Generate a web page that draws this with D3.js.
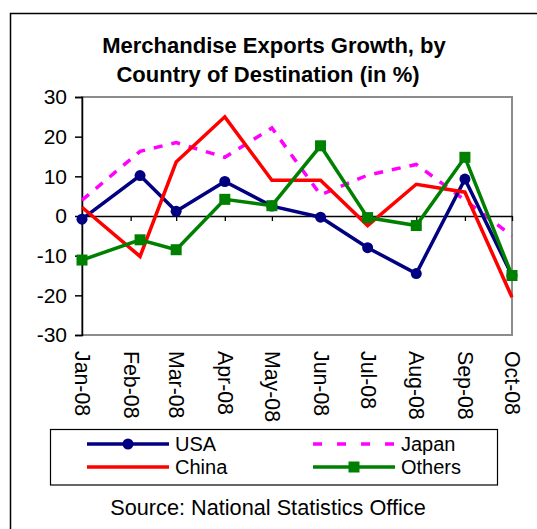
<!DOCTYPE html>
<html>
<head>
<meta charset="utf-8">
<script src="https://cdn.jsdelivr.net/npm/d3@7"></script>
<style>
  body { margin: 0; background: #fff; }
  text { font-family: "Liberation Sans", Arial, sans-serif; fill: #000; }
</style>
</head>
<body>
<svg width="537" height="529"></svg>
<script>
// data (percent growth)
const dates = ["2008-01-01", "2008-02-07", "2008-03-01", "2008-04-01", "2008-05-01",
               "2008-06-01", "2008-07-01", "2008-08-01", "2008-09-01", "2008-10-01"];
const monthLabels = ["Jan-08", "Feb-08", "Mar-08", "Apr-08", "May-08",
                     "Jun-08", "Jul-08", "Aug-08", "Sep-08", "Oct-08"];
const usa    = [-0.8, 10.2, 1.2, 8.7, 2.5, -0.3, -8, -14.5, 9.3, -15];
const china  = [2.2, -10.2, 13.6, 25, 9, 9, -2.4, 8, 6, -20.5];
const japan  = [4, 16.3, 18.5, 14.8, 22.2, 5.3, 10.3, 13, 4, -5];
const others = [-11.1, -6, -8.5, 4.2, 2.6, 17.7, -0.4, -2.4, 14.8, -15];
const yTicks = [-30, -20, -10, 0, 10, 20, 30];

const series = [
  { name: "USA",    values: usa,    color: "#000080", marker: "circle" },
  { name: "China",  values: china,  color: "#ff0000", marker: null },
  { name: "Japan",  values: japan,  color: "#ff00ff", marker: null, dash: "9,9" },
  { name: "Others", values: others, color: "#008000", marker: "square" }
];

const parse = d3.timeParse("%Y-%m-%d");
const dateVals = dates.map(parse);
const monthStarts = monthLabels.map(m => d3.timeParse("%b-%y")(m));

const svg = d3.select("svg");

// outer chart frame (runs off the right and bottom edge)
svg.append("rect")
  .attr("x", 10.5).attr("y", 13.5)
  .attr("width", 560).attr("height", 560)
  .attr("fill", "none").attr("stroke", "#000").attr("stroke-width", 1.5);

const plotLeft = 82, plotRight = 512, plotTop = 97, plotBottom = 335;

const x = d3.scaleTime()
  .domain([monthStarts[0], monthStarts[monthStarts.length - 1]])
  .range([plotLeft, plotRight]);
const y = d3.scaleLinear().domain([-30, 30]).range([plotBottom, plotTop]);

// title
const title = svg.append("text")
  .attr("text-anchor", "middle")
  .style("font-weight", "bold").style("font-size", "22px");
title.append("tspan").attr("x", 274).attr("y", 53).text("Merchandise Exports Growth, by");
title.append("tspan").attr("x", 268).attr("y", 82).text("Country of Destination (in %)");

// plot area border
svg.append("rect")
  .attr("x", plotLeft).attr("y", plotTop)
  .attr("width", plotRight - plotLeft).attr("height", plotBottom - plotTop)
  .attr("fill", "none").attr("stroke", "#8c8c8c").attr("stroke-width", 2);

// y axis
const yAxis = svg.append("g")
  .attr("transform", `translate(${plotLeft},0)`)
  .call(d3.axisLeft(y).tickValues(yTicks).tickSize(7).tickPadding(8).tickFormat(d => String(d)));
yAxis.selectAll("text").style("font-size", "21px").attr("fill", "#000")
  .style("font-family", "Liberation Sans, Arial, sans-serif");
yAxis.selectAll("line, path").attr("stroke", "#000").attr("stroke-width", 1.5);

// x axis at zero
const xAxis = svg.append("g")
  .attr("transform", `translate(0,${y(0)})`)
  .call(d3.axisBottom(x).tickValues(monthStarts.slice(1)).tickSize(5).tickSizeOuter(0).tickFormat(""));
xAxis.selectAll("line, path").attr("stroke", "#000").attr("stroke-width", 1.3);

// rotated month labels
svg.append("g").selectAll("text")
  .data(monthStarts)
  .join("text")
  .attr("transform", d => `translate(${x(d)},${plotBottom + 16}) rotate(90)`)
  .attr("dominant-baseline", "central")
  .style("font-size", "21.3px")
  .text((d, i) => monthLabels[i]);

// lines
const line = d3.line()
  .x((d, i) => x(dateVals[i]))
  .y(d => y(d));

const drawOrder = [series[2], series[0], series[1], series[3]];
drawOrder.forEach(s => {
  svg.append("path")
    .datum(s.values)
    .attr("d", line)
    .attr("fill", "none")
    .attr("stroke", s.color)
    .attr("stroke-width", 3.5)
    .attr("stroke-linejoin", "miter")
    .attr("stroke-dasharray", s.dash || null);

  if (s.marker === "circle") {
    svg.append("g").selectAll("circle")
      .data(s.values)
      .join("circle")
      .attr("cx", (d, i) => x(dateVals[i]))
      .attr("cy", d => y(d))
      .attr("r", 5.5)
      .attr("fill", s.color);
  } else if (s.marker === "square") {
    svg.append("g").selectAll("rect")
      .data(s.values)
      .join("rect")
      .attr("x", (d, i) => x(dateVals[i]) - 5.5)
      .attr("y", d => y(d) - 5.5)
      .attr("width", 11).attr("height", 11)
      .attr("fill", s.color);
  }
});

// legend
svg.append("rect")
  .attr("x", 50.5).attr("y", 429.5).attr("width", 447).attr("height", 55.5)
  .attr("fill", "#fff").attr("stroke", "#000").attr("stroke-width", 1.2);

const legendPos = [
  { x: 87, y: 444 },   // USA
  { x: 87, y: 467 },   // China
  { x: 313, y: 444 },  // Japan
  { x: 313, y: 467 }   // Others
];
series.forEach((s, i) => {
  const p = legendPos[i];
  const g = svg.append("g").attr("transform", `translate(${p.x},${p.y})`);
  g.append("line")
    .attr("x1", 0).attr("x2", 82)
    .attr("stroke", s.color).attr("stroke-width", 3.5)
    .attr("stroke-dasharray", s.dash ? "9,15" : null);
  if (s.marker === "circle") {
    g.append("circle").attr("cx", 41).attr("r", 5.5).attr("fill", s.color);
  } else if (s.marker === "square") {
    g.append("rect").attr("x", 35.5).attr("y", -5.5).attr("width", 11).attr("height", 11).attr("fill", s.color);
  }
  g.append("text")
    .attr("x", 88).attr("y", 7)
    .style("font-size", "20px")
    .text(s.name);
});

// source note
svg.append("text")
  .attr("x", 268).attr("y", 515)
  .attr("text-anchor", "middle")
  .style("font-size", "21.7px")
  .text("Source: National Statistics Office");
</script>
</body>
</html>
